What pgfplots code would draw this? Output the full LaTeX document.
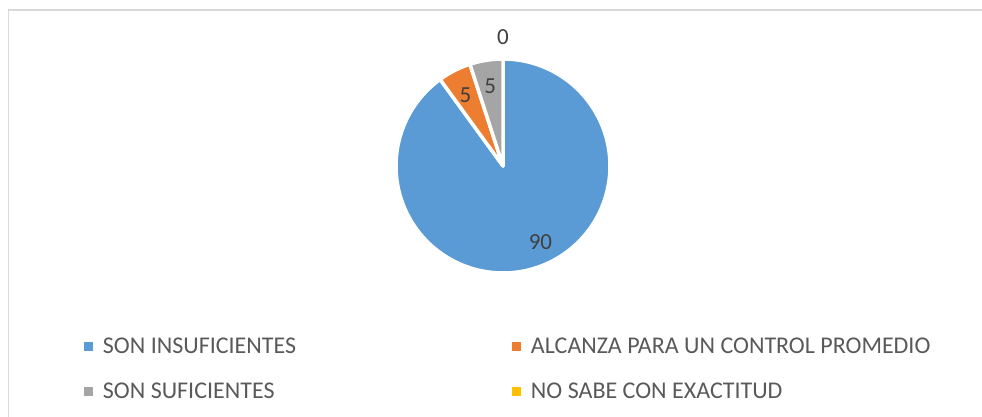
\documentclass[border=0pt]{standalone}
\usepackage{pgfplots}
\pgfplotsset{compat=1.18}
\usepackage{fontspec}
\setmainfont{Carlito}
\definecolor{pieblue}{HTML}{5B9BD5}
\definecolor{pieorange}{HTML}{ED7D31}
\definecolor{piegrey}{HTML}{A5A5A5}
\definecolor{pieyellow}{HTML}{FFC000}
\definecolor{lbl}{HTML}{404040}
\definecolor{leg}{HTML}{595959}
\definecolor{frame}{HTML}{D9D9D9}
% data values (percent)
\def\vA{90}% SON INSUFICIENTES
\def\vB{5}% ALCANZA PARA UN CONTROL PROMEDIO
\def\vC{5}% SON SUFICIENTES
\def\vD{0}% NO SABE CON EXACTITUD
\begin{document}
\begin{tikzpicture}[x=1pt,y=1pt]
\path[use as bounding box] (0,0) rectangle (982,417);
\draw[frame, line width=1.2pt] (8.5,-5) -- (8.5,407) -- (990,407);
\begin{axis}[
  at={(503pt,251pt)}, anchor=center,
  scale only axis, width=214pt, height=214pt,
  xmin=-1, xmax=1, ymin=-1, ymax=1,
  hide axis, clip=false,
  legend columns=2,
  legend cell align=left,
  legend image code/.code={\fill[#1,draw=none] (0pt,-4.5pt) rectangle (9pt,4.5pt); \path[draw=none,fill=none] (0pt,0pt) -- (17pt,0pt);},
  legend style={at={(-1.459,-0.295)}, anchor=north west, draw=none, fill=none,
    font=\fontsize{24}{28}\selectfont, text=leg, inner sep=0pt,
    row sep=24pt,
    /tikz/every even column/.append style={column sep=7pt}},
]
\addplot[fill=pieblue, draw=white, line width=3.5pt, line join=round,
  domain={90+3.6*(\vB+\vC)}:450, samples=150]
  ({cos(x)},{sin(x)}) -- (axis cs:0,0) -- cycle;
\addlegendentry{\makebox[400pt][l]{SON INSUFICIENTES}}
\addplot[fill=pieorange, draw=white, line width=3.5pt, line join=round,
  domain={90+3.6*\vC}:{90+3.6*(\vB+\vC)}, samples=20]
  ({cos(x)},{sin(x)}) -- (axis cs:0,0) -- cycle;
\addlegendentry{ALCANZA PARA UN CONTROL PROMEDIO}
\addplot[fill=piegrey, draw=white, line width=3.5pt, line join=round,
  domain=90:{90+3.6*\vC}, samples=20]
  ({cos(x)},{sin(x)}) -- (axis cs:0,0) -- cycle;
\addlegendentry{\makebox[400pt][l]{SON SUFICIENTES}}
\addlegendimage{fill=pieyellow}
\addlegendentry{NO SABE CON EXACTITUD}
\node[text=lbl, font=\fontsize{23}{27}\selectfont] at (axis cs:0.35,-0.71) {\vA};
\node[text=lbl, font=\fontsize{23}{27}\selectfont] at (axis cs:-0.35,0.66) {\vB};
\node[text=lbl, font=\fontsize{23}{27}\selectfont] at (axis cs:-0.12,0.75) {\vC};
\node[text=lbl, font=\fontsize{23}{27}\selectfont] at (axis cs:0,1.2) {\vD};
\end{axis}
\end{tikzpicture}
\end{document}
